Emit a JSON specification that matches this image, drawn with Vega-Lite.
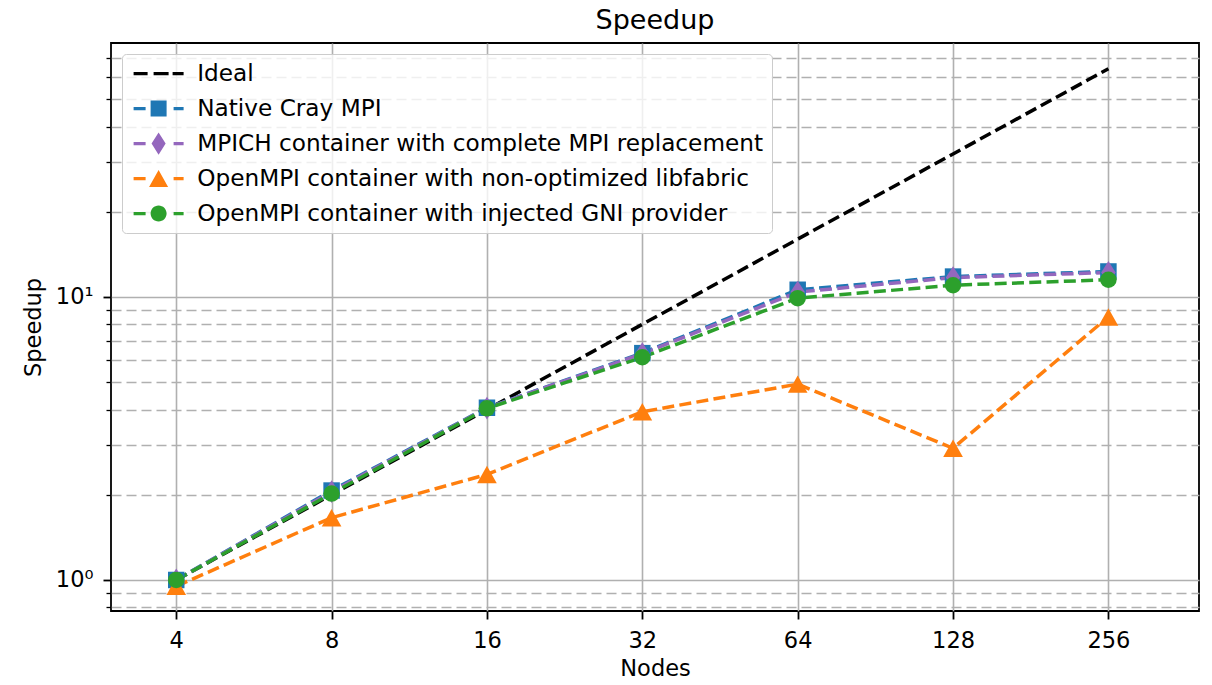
{
  "$schema": "https://vega.github.io/schema/vega-lite/v6.json",
  "width": 1088,
  "height": 568,
  "autosize": {"type": "none"},
  "padding": {"left": 111, "top": 43, "right": 13, "bottom": 74},
  "background": "white",
  "title": {"text": "Speedup", "fontSize": 27, "font": "DejaVu Sans", "fontWeight": "normal", "color": "black", "offset": 8, "anchor": "middle"},
  "data": {"values": [
    {"Nodes": 4, "Speedup": 1, "series": "Ideal"},
    {"Nodes": 8, "Speedup": 2, "series": "Ideal"},
    {"Nodes": 16, "Speedup": 4, "series": "Ideal"},
    {"Nodes": 32, "Speedup": 8, "series": "Ideal"},
    {"Nodes": 64, "Speedup": 16, "series": "Ideal"},
    {"Nodes": 128, "Speedup": 32, "series": "Ideal"},
    {"Nodes": 256, "Speedup": 64, "series": "Ideal"},
    {"Nodes": 4, "Speedup": 1.0, "series": "Native Cray MPI"},
    {"Nodes": 8, "Speedup": 2.07, "series": "Native Cray MPI"},
    {"Nodes": 16, "Speedup": 4.06, "series": "Native Cray MPI"},
    {"Nodes": 32, "Speedup": 6.33, "series": "Native Cray MPI"},
    {"Nodes": 64, "Speedup": 10.6, "series": "Native Cray MPI"},
    {"Nodes": 128, "Speedup": 11.8, "series": "Native Cray MPI"},
    {"Nodes": 256, "Speedup": 12.3, "series": "Native Cray MPI"},
    {"Nodes": 4, "Speedup": 1.0, "series": "MPICH container with complete MPI replacement"},
    {"Nodes": 8, "Speedup": 2.05, "series": "MPICH container with complete MPI replacement"},
    {"Nodes": 16, "Speedup": 4.05, "series": "MPICH container with complete MPI replacement"},
    {"Nodes": 32, "Speedup": 6.3, "series": "MPICH container with complete MPI replacement"},
    {"Nodes": 64, "Speedup": 10.4, "series": "MPICH container with complete MPI replacement"},
    {"Nodes": 128, "Speedup": 11.7, "series": "MPICH container with complete MPI replacement"},
    {"Nodes": 256, "Speedup": 12.2, "series": "MPICH container with complete MPI replacement"},
    {"Nodes": 4, "Speedup": 0.95, "series": "OpenMPI container with non-optimized libfabric"},
    {"Nodes": 8, "Speedup": 1.66, "series": "OpenMPI container with non-optimized libfabric"},
    {"Nodes": 16, "Speedup": 2.36, "series": "OpenMPI container with non-optimized libfabric"},
    {"Nodes": 32, "Speedup": 3.93, "series": "OpenMPI container with non-optimized libfabric"},
    {"Nodes": 64, "Speedup": 4.92, "series": "OpenMPI container with non-optimized libfabric"},
    {"Nodes": 128, "Speedup": 2.92, "series": "OpenMPI container with non-optimized libfabric"},
    {"Nodes": 256, "Speedup": 8.5, "series": "OpenMPI container with non-optimized libfabric"},
    {"Nodes": 4, "Speedup": 1.0, "series": "OpenMPI container with injected GNI provider"},
    {"Nodes": 8, "Speedup": 2.02, "series": "OpenMPI container with injected GNI provider"},
    {"Nodes": 16, "Speedup": 4.04, "series": "OpenMPI container with injected GNI provider"},
    {"Nodes": 32, "Speedup": 6.12, "series": "OpenMPI container with injected GNI provider"},
    {"Nodes": 64, "Speedup": 9.9, "series": "OpenMPI container with injected GNI provider"},
    {"Nodes": 128, "Speedup": 11.0, "series": "OpenMPI container with injected GNI provider"},
    {"Nodes": 256, "Speedup": 11.5, "series": "OpenMPI container with injected GNI provider"}
  ]},
  "encoding": {
    "x": {
      "field": "Nodes", "type": "quantitative",
      "scale": {"type": "log", "base": 2, "domain": [2.99, 383.5], "nice": false, "zero": false},
      "axis": {
        "title": "Nodes",
        "values": [4, 8, 16, 32, 64, 128, 256],
        "format": "d",
        "labelFlush": false,
        "labelOverlap": false,
        "labelPadding": 10,
        "titlePadding": 6
      }
    },
    "y": {
      "field": "Speedup", "type": "quantitative",
      "scale": {"type": "log", "domain": [0.777, 78.9], "nice": false, "zero": false},
      "axis": {
        "title": "Speedup",
        "values": [0.8, 0.9, 1, 2, 3, 4, 5, 6, 7, 8, 9, 10, 20, 30, 40, 50, 60, 70],
        "labelExpr": "datum.value == 1 ? '10⁰' : (datum.value == 10 ? '10¹' : '')",
        "labelOverlap": false,
        "labelFlush": false,
        "labelPadding": 10,
        "titlePadding": 10,
        "gridDash": {"condition": {"test": "datum.value == 1 || datum.value == 10", "value": []}, "value": [10, 5]},
        "tickSize": {"condition": {"test": "datum.value == 1 || datum.value == 10", "value": 8}, "value": 5},
        "tickWidth": {"condition": {"test": "datum.value == 1 || datum.value == 10", "value": 1.8}, "value": 1.3}
      }
    }
  },
  "layer": [
    {
      "mark": {"type": "line", "strokeWidth": 3.5, "strokeDash": [12, 5.3], "clip": true},
      "encoding": {
        "color": {
          "field": "series", "type": "nominal", "legend": null,
          "scale": {
            "domain": ["Ideal", "Native Cray MPI", "MPICH container with complete MPI replacement", "OpenMPI container with non-optimized libfabric", "OpenMPI container with injected GNI provider"],
            "range": ["#000000", "#1f77b4", "#9467bd", "#ff7f0e", "#2ca02c"]
          }
        }
      }
    },
    {
      "transform": [{"filter": "datum.series != 'Ideal'"}],
      "mark": {"type": "point", "filled": true, "size": 272, "opacity": 1, "strokeWidth": 0},
      "encoding": {
        "color": {
          "field": "series", "type": "nominal", "legend": null,
          "scale": {
            "domain": ["Native Cray MPI", "MPICH container with complete MPI replacement", "OpenMPI container with non-optimized libfabric", "OpenMPI container with injected GNI provider"],
            "range": ["#1f77b4", "#9467bd", "#ff7f0e", "#2ca02c"]
          }
        },
        "shape": {
          "field": "series", "type": "nominal", "legend": null,
          "scale": {
            "domain": ["Native Cray MPI", "MPICH container with complete MPI replacement", "OpenMPI container with non-optimized libfabric", "OpenMPI container with injected GNI provider"],
            "range": [
              "M-1,-1L1,-1L1,1L-1,1Z",
              "M0,-1.38L0.88,0L0,1.38L-0.88,0Z",
              "M0,-1.06L1.19,1.06L-1.19,1.06Z",
              "circle"
            ]
          }
        }
      }
    },
    {
      "mark": {"type": "point", "filled": true, "size": 256, "opacity": 0},
      "encoding": {
        "color": {
          "field": "series", "type": "nominal",
          "legend": {"title": null},
          "scale": {
            "domain": ["Ideal", "Native Cray MPI", "MPICH container with complete MPI replacement", "OpenMPI container with non-optimized libfabric", "OpenMPI container with injected GNI provider"],
            "range": ["#000000", "#1f77b4", "#9467bd", "#ff7f0e", "#2ca02c"]
          }
        },
        "shape": {
          "field": "series", "type": "nominal",
          "legend": {"title": null},
          "scale": {
            "domain": ["Ideal", "Native Cray MPI", "MPICH container with complete MPI replacement", "OpenMPI container with non-optimized libfabric", "OpenMPI container with injected GNI provider"],
            "range": [
              "M-1,-0.21L0.75,-0.21L0.75,0.21L-1,0.21Z M1.5,-0.21L3.375,-0.21L3.375,0.21L1.5,0.21Z M3.875,-0.21L5.25,-0.21L5.25,0.21L3.875,0.21Z",
              "M-1,-0.21L0.5,-0.21L0.5,0.21L-1,0.21Z M4,-0.21L5.25,-0.21L5.25,0.21L4,0.21Z M1.125,-1L3.125,-1L3.125,1L1.125,1Z",
              "M-1,-0.21L0.5,-0.21L0.5,0.21L-1,0.21Z M4,-0.21L5.25,-0.21L5.25,0.21L4,0.21Z M2.125,-1.38L3.005,0L2.125,1.38L1.245,0Z",
              "M-1,-0.21L0.5,-0.21L0.5,0.21L-1,0.21Z M4,-0.21L5.25,-0.21L5.25,0.21L4,0.21Z M2.125,-1.06L3.315,1.06L0.935,1.06Z",
              "M-1,-0.21L0.5,-0.21L0.5,0.21L-1,0.21Z M4,-0.21L5.25,-0.21L5.25,0.21L4,0.21Z M3.125,0A1,1,0,1,1,1.125,0A1,1,0,1,1,3.125,0Z"
            ]
          }
        }
      }
    }
  ],
  "resolve": {"scale": {"color": "independent", "shape": "independent"}},
  "config": {
    "font": "DejaVu Sans",
    "view": {"stroke": "black", "strokeWidth": 1.8},
    "axis": {
      "domain": false,
      "grid": true,
      "gridColor": "#b0b0b0",
      "gridWidth": 1.6,
      "gridOpacity": 1,
      "tickColor": "black",
      "tickSize": 8,
      "tickWidth": 1.8,
      "labelFont": "DejaVu Sans",
      "labelFontSize": 22.5,
      "labelColor": "black",
      "titleFont": "DejaVu Sans",
      "titleFontSize": 22.5,
      "titleFontWeight": "normal",
      "titleColor": "black"
    },
    "legend": {
      "orient": "top-left",
      "offset": 11,
      "padding": 8,
      "strokeColor": "#cccccc",
      "fillColor": "rgba(255,255,255,0.8)",
      "cornerRadius": 4,
      "labelFont": "DejaVu Sans",
      "labelFontSize": 23.2,
      "labelColor": "black",
      "labelLimit": 800,
      "labelOffset": 44,
      "symbolSize": 256,
      "symbolOpacity": 1,
      "symbolStrokeWidth": 0,
      "rowPadding": 11
    }
  }
}
